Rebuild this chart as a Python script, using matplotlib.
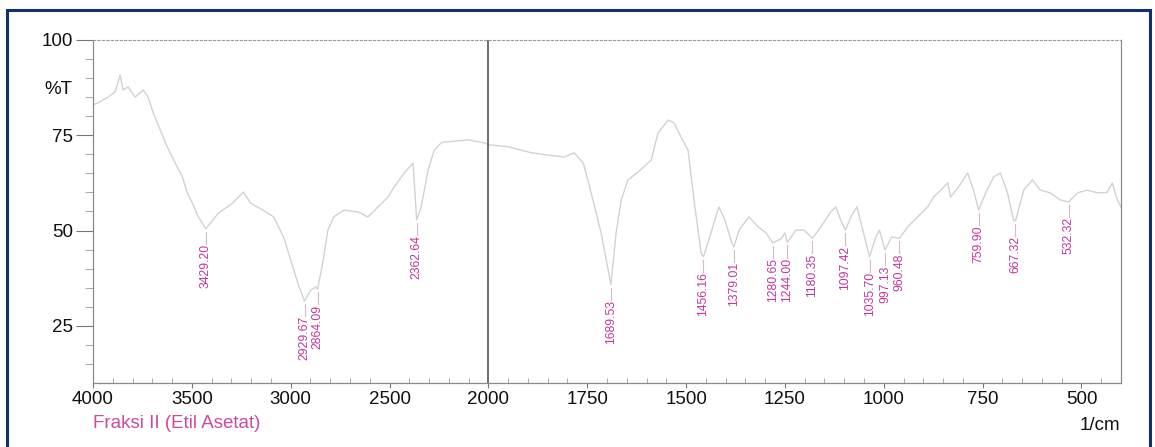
import numpy as np
import matplotlib
matplotlib.use("Agg")
import matplotlib.pyplot as plt
from matplotlib.patches import Rectangle

plt.rcParams['font.family'] = ['Liberation Sans', 'DejaVu Sans']

# spectrum trace, wavenumber (1/cm) and transmittance (%T)
wavenumber = [4000, 3975, 3924, 3888, 3863, 3848, 3822, 3787, 3746, 3721, 3695, 3660,
	3624, 3584, 3548, 3523, 3497, 3467, 3429, 3406, 3365, 3294, 3239, 3203, 3142,
	3086, 3036, 3000, 2964, 2930, 2898, 2873, 2864, 2838, 2812, 2782, 2731, 2660,
	2609, 2558, 2508, 2477, 2426, 2381, 2363, 2340, 2305, 2274, 2239, 2223, 2102,
	2020, 2000, 1950, 1891, 1848, 1808, 1783, 1760, 1740, 1715, 1690, 1677, 1664,
	1647, 1621, 1588, 1571, 1545, 1530, 1513, 1495, 1480, 1462, 1456, 1437, 1417,
	1402, 1384, 1379, 1366, 1341, 1318, 1298, 1281, 1260, 1250, 1244, 1222, 1202,
	1180, 1159, 1134, 1121, 1109, 1097, 1083, 1068, 1055, 1036, 1020, 1011, 997,
	980, 960, 939, 914, 889, 874, 856, 838, 831, 811, 788, 773, 760, 742, 722, 705,
	687, 672, 667, 646, 624, 604, 579, 553, 532, 510, 485, 460, 435, 422, 409, 400]
transmittance = [83.0, 83.5, 85.0, 86.4, 90.8, 86.9, 87.7, 85.0, 86.9, 85.0, 80.8, 76.4,
	71.9, 67.7, 64.1, 59.9, 57.2, 53.6, 50.5, 52.0, 54.6, 57.2, 60.1, 57.2, 55.4,
	53.6, 48.3, 42.3, 36.2, 31.5, 34.4, 35.2, 34.6, 41.5, 50.1, 53.6, 55.4, 54.9,
	53.6, 56.2, 58.8, 61.4, 65.1, 67.7, 52.8, 56.2, 65.9, 71.1, 73.0, 73.2, 73.8,
	73.0, 72.5, 72.0, 70.4, 69.8, 69.3, 70.4, 67.7, 59.9, 49.4, 35.8, 49.4, 58.0,
	63.3, 65.4, 68.5, 75.6, 79.0, 78.2, 74.6, 71.1, 58.0, 44.1, 43.1, 49.4, 56.2,
	52.8, 46.7, 45.7, 50.1, 53.6, 51.0, 49.4, 46.8, 47.8, 49.4, 46.9, 50.1, 50.1,
	48.0, 51.0, 54.9, 56.2, 52.8, 50.1, 53.6, 56.2, 51.0, 43.1, 48.3, 50.1, 44.9,
	48.3, 48.0, 51.0, 53.6, 56.2, 58.8, 60.6, 62.5, 58.8, 61.4, 65.1, 60.6, 55.4,
	59.9, 64.1, 65.1, 59.9, 52.8, 52.5, 60.6, 63.3, 60.6, 59.9, 58.0, 57.5, 59.9,
	60.6, 59.9, 60.0, 62.5, 58.0, 56.2]

# labelled peaks
peak_wn = [3429.20, 2929.67, 2864.09, 2362.64, 1689.53, 1456.16, 1379.01, 1280.65,
	1244.00, 1180.35, 1097.42, 1035.70, 997.13, 960.48, 759.90, 667.32, 532.32]
peak_t = [50.5, 31.5, 34.6, 52.8, 35.8, 43.1, 45.7, 46.8, 46.9, 48.0, 50.1, 43.1,
	44.9, 48.0, 55.4, 52.5, 57.5]

x_major = [4000, 3500, 3000, 2500, 2000, 1750, 1500, 1250, 1000, 750, 500]
y_major = [25, 50, 75, 100]

# two-segment axis: above 2000 1/cm is drawn at half the scale
def fwd(w):
	w = np.asarray(w, dtype=float)
	return np.where(w > 2000, 2000 + (w - 2000) * 0.5, w)

def inv(u):
	u = np.asarray(u, dtype=float)
	return np.where(u > 2000, 2000 + (u - 2000) * 2.0, u)

W, H = 1155, 447
PT = 0.72  # points per pixel at 100 dpi
fig = plt.figure(figsize=(W / 100, H / 100), dpi=100)
ax = fig.add_axes([93 / W, 1 - 383 / H, (1121 - 93) / W, (383 - 40) / H])
ax.set_xscale('function', functions=(fwd, inv))
ax.set_xlim(4000, 400)
ax.set_ylim(10, 100)

ax.plot(wavenumber, transmittance, color='#d2d2d2', lw=1.0)
ax.axvline(2000, color='#555555', lw=1.2)

label_col = '#c4369a'
for w, t in zip(peak_wn, peak_t):
	ax.plot([w, w], [t - 0.8, t - 4.0], color='#d8b8cc', lw=0.8)
	ax.text(w, t - 4.0, "{:.2f}".format(w), rotation=90, ha='center', va='top',
		fontsize=8.7, color=label_col)

for s in ['left', 'bottom', 'right']:
	ax.spines[s].set_color('#8a8a8a')
	ax.spines[s].set_linewidth(0.9)
ax.spines['top'].set_color('#9a9a9a')
ax.spines['top'].set_linestyle((0, (2, 2)))
ax.spines['top'].set_linewidth(0.8)

ax.set_xticks(x_major)
ax.set_xticks([v for v in np.arange(3900, 2000, -100) if v % 500] +
	[v for v in np.arange(1950, 400, -50) if v % 250], minor=True)
ax.set_yticks(y_major)
ax.set_yticks([v for v in range(15, 100, 5) if v % 25], minor=True)
ax.tick_params(axis='x', which='major', direction='out', length=5 * PT, color='#777777',
	labelsize=13.5, pad=2, labelcolor='#111111')
ax.tick_params(axis='x', which='minor', direction='in', length=5 * PT, color='#999999')
ax.tick_params(axis='y', which='major', direction='out', length=17 * PT, color='#777777',
	labelsize=13.5, pad=3 * PT, labelcolor='#111111')
ax.tick_params(axis='y', which='minor', direction='out', length=8 * PT, color='#999999')

ax.text(-0.0205, 87, "%T", transform=ax.get_yaxis_transform(), ha='right', va='center',
	fontsize=13.5, color='#111111')
fig.text(1120 / W, 1 - 430 / H, "1/cm", ha='right', va='baseline', fontsize=13.5, color='#111111')
fig.text(93 / W, 1 - 428 / H, "Fraksi II (Etil Asetat)", ha='left', va='baseline',
	fontsize=13.5, color='#cc4a9e')

# frame around the whole chart
fig.patches.append(Rectangle((7 / W, -0.1), (1150 - 7) / W, 1.1 - 10 / H,
	transform=fig.transFigure, fill=False, edgecolor='#13306e', lw=2.2))

fig.savefig("out.png", dpi=100)
